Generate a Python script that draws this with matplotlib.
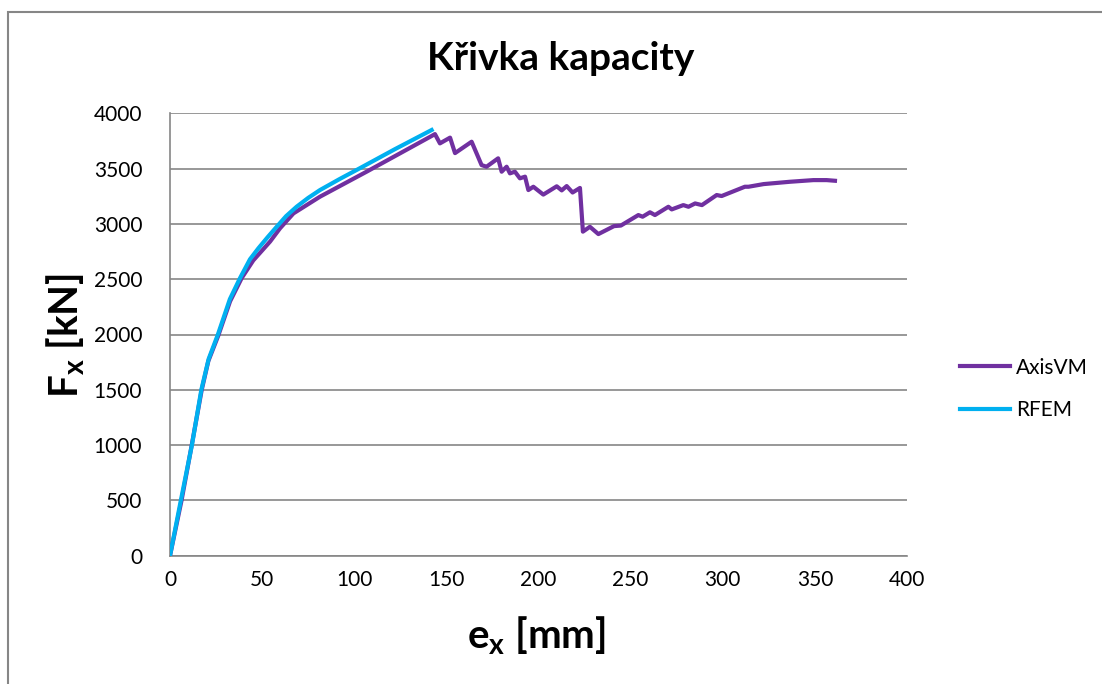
import matplotlib
matplotlib.use("Agg")
import matplotlib.pyplot as plt
from matplotlib.patches import Rectangle

title = "Křivka kapacity"
xlabel = r"$\mathbf{e_x}$ [mm]"
ylabel = r"$\mathbf{F_x}$ [kN]"

axis_x = [0, 6.3, 11.8, 17.2, 20.8, 26.2, 32.6, 38.9, 45.2, 54.3, 59.7, 67, 81.4, 106.7, 142,
          143.8, 146.5, 152, 154.7, 163.7, 169.1, 171.8, 178.1, 180, 182.7, 184.5, 187.2, 189.9,
          192.7, 194.5, 197.2, 202.6, 209.9, 212.6, 215.3, 218.5, 222.5, 224.1, 227.9, 232.5,
          241, 244.7, 254.2, 256.5, 260.5, 263.2, 270.5, 272.3, 278.6, 281.4, 285, 288.7, 296.7,
          299.4, 312, 314, 322.2, 336.5, 349.2, 356.4, 360.9]
axis_y = [0, 503, 1000, 1498, 1760, 1990, 2300, 2510, 2670, 2840, 2960, 3095, 3246, 3472, 3795,
          3812, 3728, 3780, 3640, 3743, 3532, 3517, 3593, 3472, 3517, 3457, 3472, 3412,
          3427, 3306, 3336, 3265, 3340, 3303, 3342, 3284, 3325, 2930, 2974, 2908,
          2980, 2985, 3080, 3065, 3105, 3080, 3155, 3131, 3170, 3155, 3185, 3170, 3261,
          3252, 3336, 3336, 3360, 3381, 3396, 3396, 3390]

rfem_x = [0, 6, 12, 17, 21, 26, 32.5, 38, 43.4, 48, 53, 57.9, 63, 68.7, 75, 81.4, 92, 103, 122, 142]
rfem_y = [0, 510, 1010, 1500, 1780, 2000, 2320, 2510, 2680, 2780, 2880, 2974, 3070, 3155, 3235,
          3306, 3405, 3503, 3675, 3849]

xticks = list(range(0, 401, 50))
yticks = list(range(0, 4001, 500))

plt.rcParams['font.family'] = ['Lato', 'DejaVu Sans']
plt.rcParams['mathtext.fontset'] = 'custom'
plt.rcParams['mathtext.rm'] = 'Lato'
plt.rcParams['mathtext.bf'] = 'Lato:bold'

fig = plt.figure(figsize=(11.02, 6.84), dpi=100)
fig.patch.set_facecolor('white')
fig.patches.append(Rectangle((8/1102, -0.1), 1.2, (684-12)/684 + 0.1, transform=fig.transFigure,
                             fill=False, edgecolor='#868686', linewidth=1.5))

ax = fig.add_axes([170/1102, (684-555.7)/684, (907-170)/1102, (555.7-113.3)/684])
ax.plot(axis_x, axis_y, color='#7030A0', lw=3, label='AxisVM', solid_joinstyle='round', zorder=3)
ax.plot(rfem_x, rfem_y, color='#00B0F0', lw=3, label='RFEM', solid_joinstyle='round', zorder=4)

ax.set_xlim(0, 400)
ax.set_ylim(0, 4000)
ax.set_xticks(xticks)
ax.set_yticks(yticks)
ax.grid(axis='y', color='#868686', lw=1.2)
ax.set_axisbelow(True)
for s in ['top', 'right']:
    ax.spines[s].set_visible(False)
for s in ['left', 'bottom']:
    ax.spines[s].set_color('#868686')
    ax.spines[s].set_linewidth(1.2)
ax.tick_params(length=0, labelsize=15, pad=10, colors='black')
ax.tick_params(axis='y', pad=20)

fig.text(561/1102, 1 - 58/684, title, ha='center', va='center', fontsize=28, fontweight='bold')
fig.text(536/1102, 1 - 636/684, xlabel, ha='center', va='center', fontsize=29, fontweight='bold')
fig.text(66/1102, 1 - 335/684, ylabel, ha='center', va='center', fontsize=29, fontweight='bold', rotation=90)

leg = fig.legend(loc='center left', bbox_to_anchor=(960/1102, 1 - 389/684), frameon=False,
                 fontsize=15, handlelength=2.4, labelspacing=1.1, handletextpad=0.3,
                 borderaxespad=0, borderpad=0)

fig.savefig('out.png', dpi=100)
